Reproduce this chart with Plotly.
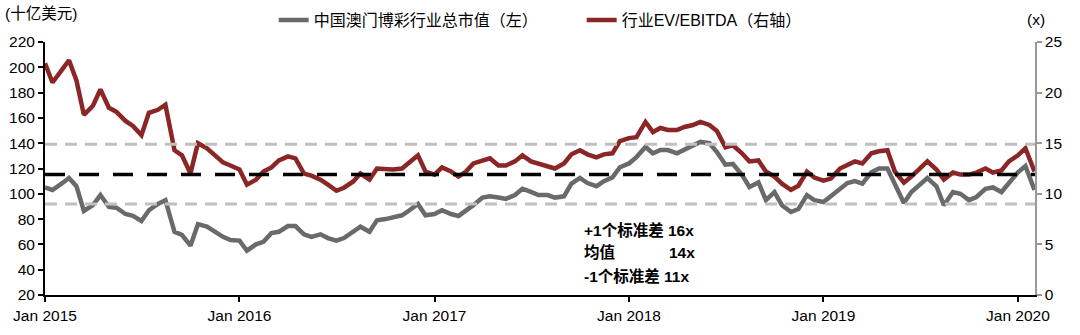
import pandas as pd
import plotly.graph_objects as go

# semi-monthly observation dates, 2015-01-01 .. 2020-02-01
dates = pd.date_range("2015-01-01", "2020-02-01", freq="SMS")

# 中国澳门博彩行业总市值 (十亿美元, left axis)
mkt_cap = [
    105, 103, 108, 112.5, 106, 86.4, 91, 99, 89.6, 89, 84, 82.5,
    78.5, 87, 92, 95, 70, 67.5, 59, 76, 74, 70, 66, 63.5,
    63, 55, 60, 62, 69, 70, 74.5, 74.5, 68, 66, 68, 65,
    63, 65, 70, 74, 70, 79, 80, 81, 83, 87, 92, 83,
    84, 87, 84, 82.5, 86.5, 91, 97, 98, 97, 96, 99, 104,
    101.5, 99, 99, 97, 98, 108, 112.5, 108.5, 106, 110, 113, 121,
    124, 129, 137, 132, 134.6, 134.6, 132, 134.6, 138, 141, 140, 133,
    123, 123.6, 115, 105.4, 109, 95, 101.4, 91, 85.6, 88, 99, 95,
    93.5, 98, 104, 108.5, 110, 108, 117, 120, 120, 107, 92.7, 101.4,
    107, 112.5, 106, 91, 101.4, 100, 95, 97.5, 104, 105, 101.4, 109,
    117, 122, 103,
]

# 行业EV/EBITDA (x, right axis)
ev_ebitda = [
    22.9, 21.0, 22.2, 23.2, 21.2, 17.8, 18.7, 20.3, 18.5, 18.1, 17.2, 16.7,
    15.8, 18.0, 18.3, 18.8, 14.3, 13.8, 12.0, 15.0, 14.5, 13.8, 13.1, 12.8,
    12.4, 10.9, 11.4, 12.2, 12.6, 13.3, 13.7, 13.5, 12.0, 11.8, 11.4, 10.9,
    10.3, 10.6, 11.2, 12.0, 11.4, 12.5, 12.4, 12.4, 12.5, 13.1, 13.8, 12.2,
    11.9, 12.6, 12.2, 11.7, 12.2, 13.0, 13.3, 13.5, 12.8, 12.8, 13.2, 13.8,
    13.2, 13.0, 12.8, 12.5, 13.0, 13.9, 14.3, 13.9, 13.6, 13.9, 14.0, 15.2,
    15.5, 15.6, 17.1, 16.1, 16.5, 16.3, 16.3, 16.6, 16.8, 17.1, 16.8, 16.2,
    14.6, 14.8, 14.0, 13.2, 13.3, 12.2, 11.7, 11.0, 10.4, 10.8, 12.2, 11.6,
    11.3, 11.5, 12.5, 12.9, 13.2, 13.0, 14.0, 14.2, 14.3, 12.2, 11.1, 11.7,
    12.5, 13.2, 12.4, 11.4, 12.1, 11.9, 11.9, 12.1, 12.5, 12.1, 12.3, 13.2,
    13.8, 14.5, 12.2,
]

# reference levels (right axis)
plus_1sd = 14.9
mean_val = 11.9
minus_1sd = 9.0

name_mkt = "中国澳门博彩行业总市值（左）"
name_ev = "行业EV/EBITDA（右轴）"

FONT = "Arial, 'Liberation Sans', 'Noto Sans CJK SC', sans-serif"
GRAY = "#6a6a6a"
RED = "#8b2626"

fig = go.Figure()
fig.add_trace(go.Scatter(x=dates, y=mkt_cap, name=name_mkt, yaxis="y",
                         mode="lines", line=dict(color=GRAY, width=4.5)))
fig.add_trace(go.Scatter(x=dates, y=ev_ebitda, name=name_ev, yaxis="y2",
                         mode="lines", line=dict(color=RED, width=4.5)))

for lvl, col, dash, w in [(plus_1sd, "#c0c0c0", "12px,8px", 3),
                          (minus_1sd, "#c0c0c0", "12px,8px", 3),
                          (mean_val, "#000000", "20px,14px", 3.5)]:
    fig.add_shape(type="line", xref="x", yref="y2",
                  x0=dates[0], x1="2020-02-02", y0=lvl, y1=lvl,
                  line=dict(color=col, width=w, dash=dash), layer="above")

fig.update_layout(
    width=1080, height=335,
    margin=dict(l=45, r=45, t=42, b=40, autoexpand=False),
    paper_bgcolor="white", plot_bgcolor="white",
    font=dict(family=FONT, size=15, color="#000"),
    showlegend=True,
    legend=dict(orientation="h", x=0.231, xanchor="left", y=1.087, yanchor="middle",
                font=dict(size=16), entrywidth=263, entrywidthmode="pixels",
                bgcolor="rgba(0,0,0,0)"),
    xaxis=dict(type="date", range=["2015-01-01", "2020-02-02"],
               tick0="2015-01-01", dtick="M12", tickformat="%b %Y",
               showline=True, linecolor="#000", linewidth=2,
               ticks="outside", ticklen=5, tickcolor="#000", tickwidth=2,
               showgrid=False, zeroline=False, tickfont=dict(size=15.5)),
    yaxis=dict(range=[20, 220], dtick=20, tick0=20,
               showline=True, linecolor="#000", linewidth=2,
               ticks="outside", ticklen=5, tickcolor="#000", tickwidth=2,
               showgrid=False, zeroline=False, tickfont=dict(size=15.5)),
    yaxis2=dict(range=[0, 25], dtick=5, overlaying="y", side="right",
                showline=True, linecolor="#999", linewidth=1.5,
                ticks="outside", ticklen=5, tickcolor="#999", tickwidth=1.5,
                showgrid=False, zeroline=False, tickfont=dict(size=15.5)),
    annotations=[
        dict(text="(十亿美元)", xref="paper", yref="paper", x=-0.042, y=1.0,
             xanchor="left", yanchor="bottom", yshift=18, showarrow=False,
             font=dict(size=15.5)),
        dict(text="(x)", xref="paper", yref="paper", x=1.0, y=1.0,
             xanchor="center", yanchor="bottom", yshift=12, xshift=1, showarrow=False,
             font=dict(size=15.5)),
        dict(text="<b>+1个标准差 16x</b>", xref="x", yref="paper",
             x="2017-10-05", y=0.255, xanchor="left", yanchor="middle",
             showarrow=False, font=dict(size=15.5)),
        dict(text="<b>均值</b>", xref="x", yref="paper",
             x="2017-10-05", y=0.168, xanchor="left", yanchor="middle",
             showarrow=False, font=dict(size=15.5)),
        dict(text="<b>14x</b>", xref="x", yref="paper",
             x="2018-05-08", y=0.168, xanchor="right", yanchor="middle",
             showarrow=False, font=dict(size=15.5)),
        dict(text="<b>-1个标准差 11x</b>", xref="x", yref="paper",
             x="2017-10-05", y=0.075, xanchor="left", yanchor="middle",
             showarrow=False, font=dict(size=15.5)),
    ],
)

fig.write_html("out.html")
